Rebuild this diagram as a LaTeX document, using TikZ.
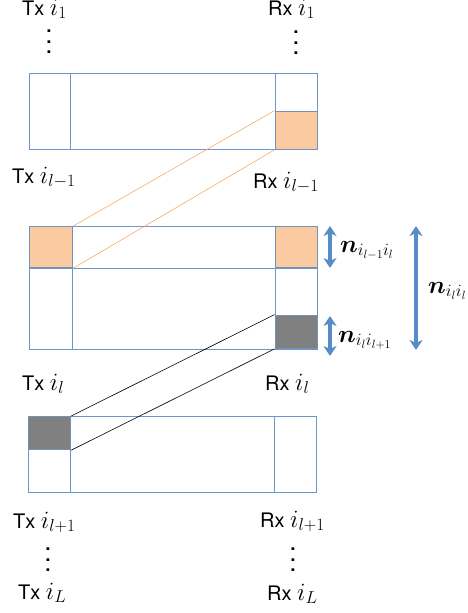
\documentclass[tikz,border=0pt]{standalone}
\usepackage{amsmath}
\usepackage{fontspec}
\setmainfont{TeX Gyre Heros}
\usepackage{tikz}
\usetikzlibrary{shapes,arrows,arrows.meta}
\definecolor{boxblue}{RGB}{110,150,205}
\definecolor{edgeblue}{RGB}{115,145,185}
\definecolor{arrowblue}{RGB}{88,140,200}
\definecolor{peach}{RGB}{250,203,160}
\definecolor{peachline}{RGB}{246,172,105}
\definecolor{slab}{RGB}{128,128,128}
\tikzstyle{frame} = [draw=boxblue, line width=0.8pt, rectangle, inner sep=0pt,
    minimum width=288pt]
\tikzstyle{column} = [draw=boxblue, line width=0.8pt, rectangle, inner sep=0pt]
\tikzstyle{peachbox} = [draw=edgeblue, line width=1.2pt, fill=peach, rectangle,
    inner sep=0pt]
\tikzstyle{greybox} = [draw=edgeblue, line width=1.2pt, fill=slab, rectangle,
    inner sep=0pt]
\tikzstyle{peachlink} = [draw=peachline, line width=0.6pt]
\tikzstyle{greylink} = [draw=black, line width=0.6pt]
\tikzstyle{span} = [draw=arrowblue, line width=3.2pt, <->]
\tikzstyle{lbl} = [anchor=base west, inner sep=0pt, font=\fontsize{20}{24}\selectfont]
\tikzstyle{nlbl} = [anchor=base west, inner sep=0pt, font=\fontsize{24}{28}\selectfont]
\tikzstyle{dots} = [inner sep=0pt]
\newcommand{\mth}[1]{{\fontsize{23}{27}\selectfont$#1$}}
\newcommand{\dotcol}{\scalebox{2.6}{\vbox{\baselineskip4pt\lineskiplimit0pt
    \hbox{.}\hbox{.}\hbox{.}}}}

\begin{document}
\begin{tikzpicture}[x=1pt, y=-1pt, >={Stealth[length=10pt,width=13pt,inset=3pt]}]
    \useasboundingbox (0,0) rectangle (467,613);
    % We start by placing the three blocks
    \node [frame, anchor=north west, minimum height=76pt] (blk1) at (29,73) {};
    \node [column, anchor=north west, minimum width=41pt, minimum height=76pt] (tx1) at (blk1.north west) {};
    \node [column, anchor=north east, minimum width=42pt, minimum height=76pt] (rx1) at (blk1.north east) {};
    \node [peachbox, anchor=south east, minimum width=42pt, minimum height=38pt] (rxa1) at (blk1.south east) {};

    \node [frame, anchor=north west, minimum height=123pt] (blk2) at (29,226) {};
    \node [column, anchor=north west, minimum width=43pt, minimum height=123pt] (tx2) at (blk2.north west) {};
    \node [column, anchor=north east, minimum width=42pt, minimum height=123pt] (rx2) at (blk2.north east) {};
    \node [peachbox, anchor=north west, minimum width=43pt, minimum height=41pt] (txa2) at (blk2.north west) {};
    \node [peachbox, anchor=north east, minimum width=42pt, minimum height=41pt] (rxa2) at (blk2.north east) {};
    \node [greybox, anchor=south east, minimum width=42pt, minimum height=33pt] (rxb2) at ([yshift=1pt]blk2.south east) {};

    \node [frame, anchor=north west, minimum height=76pt] (blk3) at (28,416) {};
    \node [column, anchor=north west, minimum width=42pt, minimum height=76pt] (tx3) at (blk3.north west) {};
    \node [column, anchor=north east, minimum width=42pt, minimum height=76pt] (rx3) at (blk3.north east) {};
    \node [greybox, anchor=north west, minimum width=42pt, minimum height=33pt] (txb3) at (blk3.north west) {};

    % The band line of the middle block
    \draw [draw=boxblue, line width=0.8pt] (txa2.south west) -- (rxa2.south east);

    % We draw the links between the blocks
    \draw [peachlink] (rxa1.north west) -- (txa2.north east);
    \draw [peachlink] (rxa1.south west) -- (txa2.south east);
    \draw [greylink] (rxb2.north west) -- (txb3.north east);
    \draw [greylink] (rxb2.south west) -- (txb3.south east);

    % The size arrows
    \coordinate (up1) at (330,226);
    \coordinate (dn1) at (330,268);
    \coordinate (up2) at (330,316);
    \coordinate (dn2) at (330,356);
    \coordinate (up3) at (416,226);
    \coordinate (dn3) at (416,350);
    \draw [span] (up1) -- (dn1);
    \draw [span] (up2) -- (dn2);
    \draw [span] (up3) -- (dn3);
    \node [nlbl] (nprev) at (340,252) {$\boldsymbol{n}_{i_{l-1}i_l}$};
    \node [nlbl] (nnext) at (338,342) {$\boldsymbol{n}_{i_li_{l+1}}$};
    \node [nlbl] (nself) at (428,293) {$\boldsymbol{n}_{i_li_l}$};

    % Labels of the transmitters and receivers
    \node [lbl] (txl1) at (22,15) {Tx \mth{i_1}};
    \node [lbl] (rxl1) at (268,15) {Rx \mth{i_1}};
    \node [dots] (txd1) at (49,42) {\dotcol};
    \node [dots] (rxd1) at (296,43) {\dotcol};
    \node [lbl] (txlp) at (12,183) {Tx \mth{i_{l-1}}};
    \node [lbl] (rxlp) at (253,188) {Rx \mth{i_{l-1}}};
    \node [lbl] (txl) at (22,390) {Tx \mth{i_l}};
    \node [lbl] (rxl) at (265,390) {Rx \mth{i_l}};
    \node [lbl] (txln) at (13,528) {Tx \mth{i_{l+1}}};
    \node [lbl] (rxln) at (260,527) {Rx \mth{i_{l+1}}};
    \node [dots] (txd2) at (48,560) {\dotcol};
    \node [dots] (rxd2) at (293,560) {\dotcol};
    \node [lbl] (txlL) at (18,599) {Tx \mth{i_L}};
    \node [lbl] (rxlL) at (267,600) {Rx \mth{i_L}};
\end{tikzpicture}
\end{document}
